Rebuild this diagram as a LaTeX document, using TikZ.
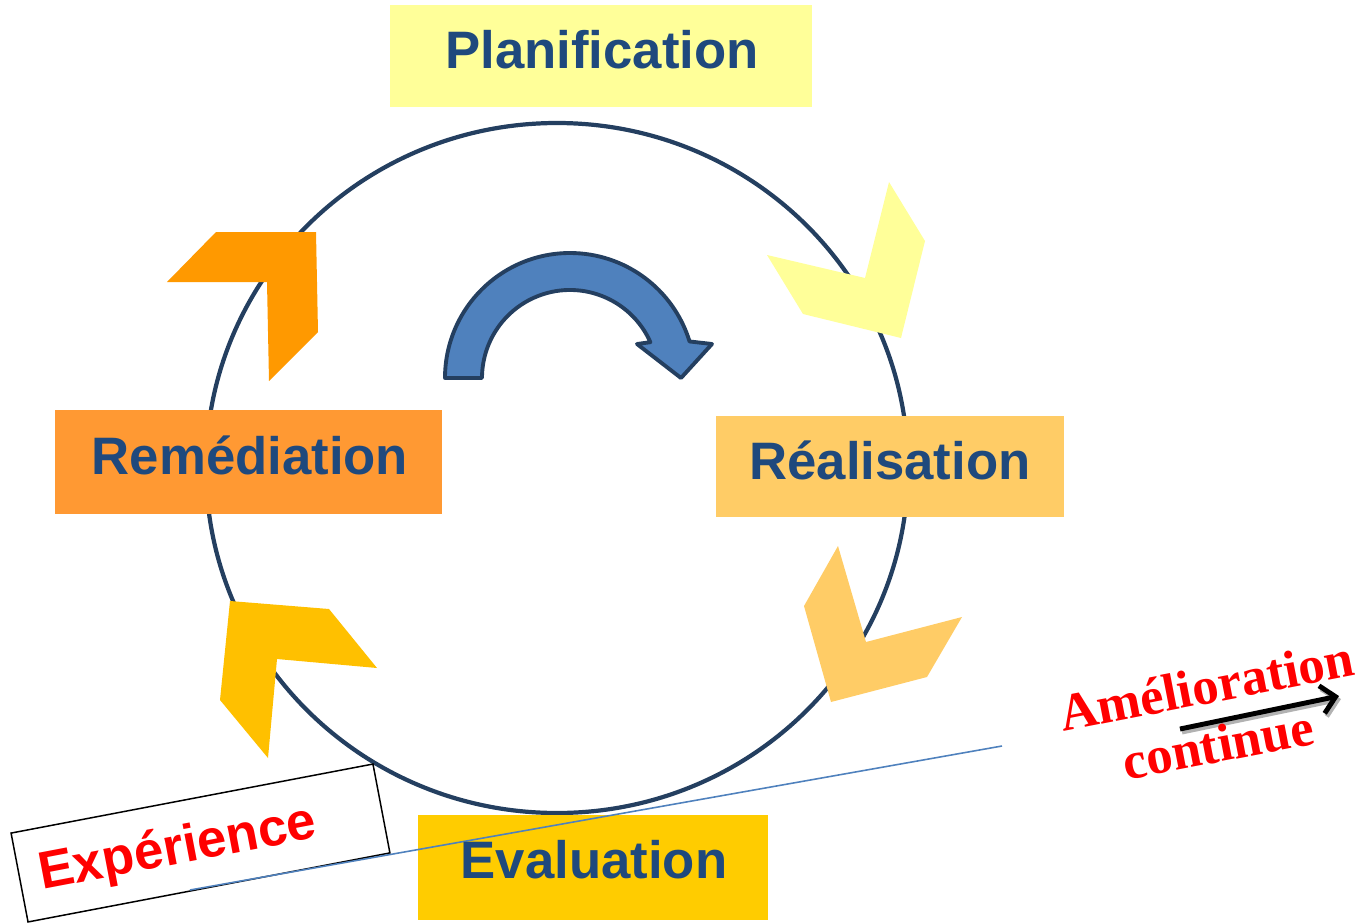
\documentclass[tikz,border=0pt]{standalone}
\usepackage{fontspec}
\setmainfont{Liberation Sans}
\newfontfamily\serifb{Liberation Serif}
\usetikzlibrary{arrows.meta}
\definecolor{navy}{HTML}{243F60}
\definecolor{txtblue}{HTML}{1F497D}
\definecolor{arrblue}{HTML}{4F81BD}
\definecolor{cplan}{HTML}{FFFF99}
\definecolor{crem}{HTML}{FF9933}
\definecolor{creal}{HTML}{FFCC66}
\definecolor{ceval}{HTML}{FFCC00}
\definecolor{chorange}{HTML}{FF9900}
\definecolor{chgold}{HTML}{FFC000}
\tikzset{
  box/.style={draw=none, inner sep=0pt, outer sep=0pt},
  lbl/.style={font=\bfseries\fontsize{30}{36}\selectfont, text=txtblue, inner sep=0pt, anchor=base},
  redlbl/.style={font=\bfseries\fontsize{30}{36}\selectfont, text=red, inner sep=0pt},
}
\begin{document}
\begin{tikzpicture}[x=0.02cm,y=0.02cm]
\useasboundingbox (0,0) rectangle (1370,-923);
% main circle
\draw[navy, line width=2.4pt] (557,-468) ellipse [x radius=351, y radius=345];
% curved arrow
\draw[line width=2.2pt, draw=navy, fill=arrblue, line join=round]
  (445,-378) arc[start angle=180, end angle=17, radius=125]
  -- (712,-344) -- (681,-378) -- (637,-344) -- (650.4,-342.2)
  arc[start angle=24, end angle=180, radius=88] -- cycle;
% boxes
\node[box, fill=cplan, minimum width=8.44cm, minimum height=2.04cm] (plan) at (601,-56) {};
\node[box, fill=crem, minimum width=7.74cm, minimum height=2.08cm] (rem) at (248.5,-462) {};
\node[box, fill=creal, minimum width=6.96cm, minimum height=2.02cm] (real) at (890,-466.5) {};
\node[box, fill=ceval, minimum width=7.0cm, minimum height=2.1cm] (eval) at (593,-867.5) {};
% chevrons
\fill[chorange] (167,-282) -- (216,-232) -- (316,-232) -- (318,-332) -- (269,-381) -- (267,-282) -- cycle;
\fill[cplan] (889,-182) -- (925,-241) -- (901,-338) -- (803,-314) -- (767,-255) -- (865,-278) -- cycle;
\fill[creal] (838,-546) -- (804,-606) -- (831,-702) -- (927,-677) -- (962,-617) -- (866,-642) -- cycle;
\fill[chgold] (230,-601) -- (329,-609) -- (377,-668) -- (277,-659) -- (268,-758) -- (220,-700) -- cycle;
% experience box
\node[draw=black, fill=white, line width=0.85pt, rotate=10.8, minimum width=7.37cm, minimum height=1.81cm, inner sep=0pt] (expbox) at (200.5,-843) {};
% thin blue line
\coordinate (lineA) at (1002,-746);
\coordinate (lineB) at (190,-890);
\draw[arrblue, line width=0.9pt] (lineA) -- (lineB);
% labels
\node[lbl] (planT) at (602,-68) {Planification};
\node[lbl] (remT) at (250,-474) {Remédiation};
\node[lbl] (realT) at (890,-479) {Réalisation};
\node[lbl] (evalT) at (594,-878) {Evaluation};
\node[redlbl, rotate=10.8] (expT) at (178,-850) {Expérience};
% amelioration continue
\coordinate (arrA) at (1180,-729);
\coordinate (arrB) at (1339,-696);
\draw[gray!60, line width=2.8pt, -{Straight Barb[length=8pt,width=16pt]}] ([shift={(2,-3)}]arrA) -- ([shift={(2,-3)}]arrB);
\draw[black, line width=2.8pt, -{Straight Barb[length=8pt,width=16pt]}] (arrA) -- (arrB);
\node[font=\serifb\bfseries\fontsize{30}{34}\selectfont, text=red, align=center, rotate=11, inner sep=0pt] (amel) at (1212,-715) {Amélioration\\continue};
\end{tikzpicture}
\end{document}
